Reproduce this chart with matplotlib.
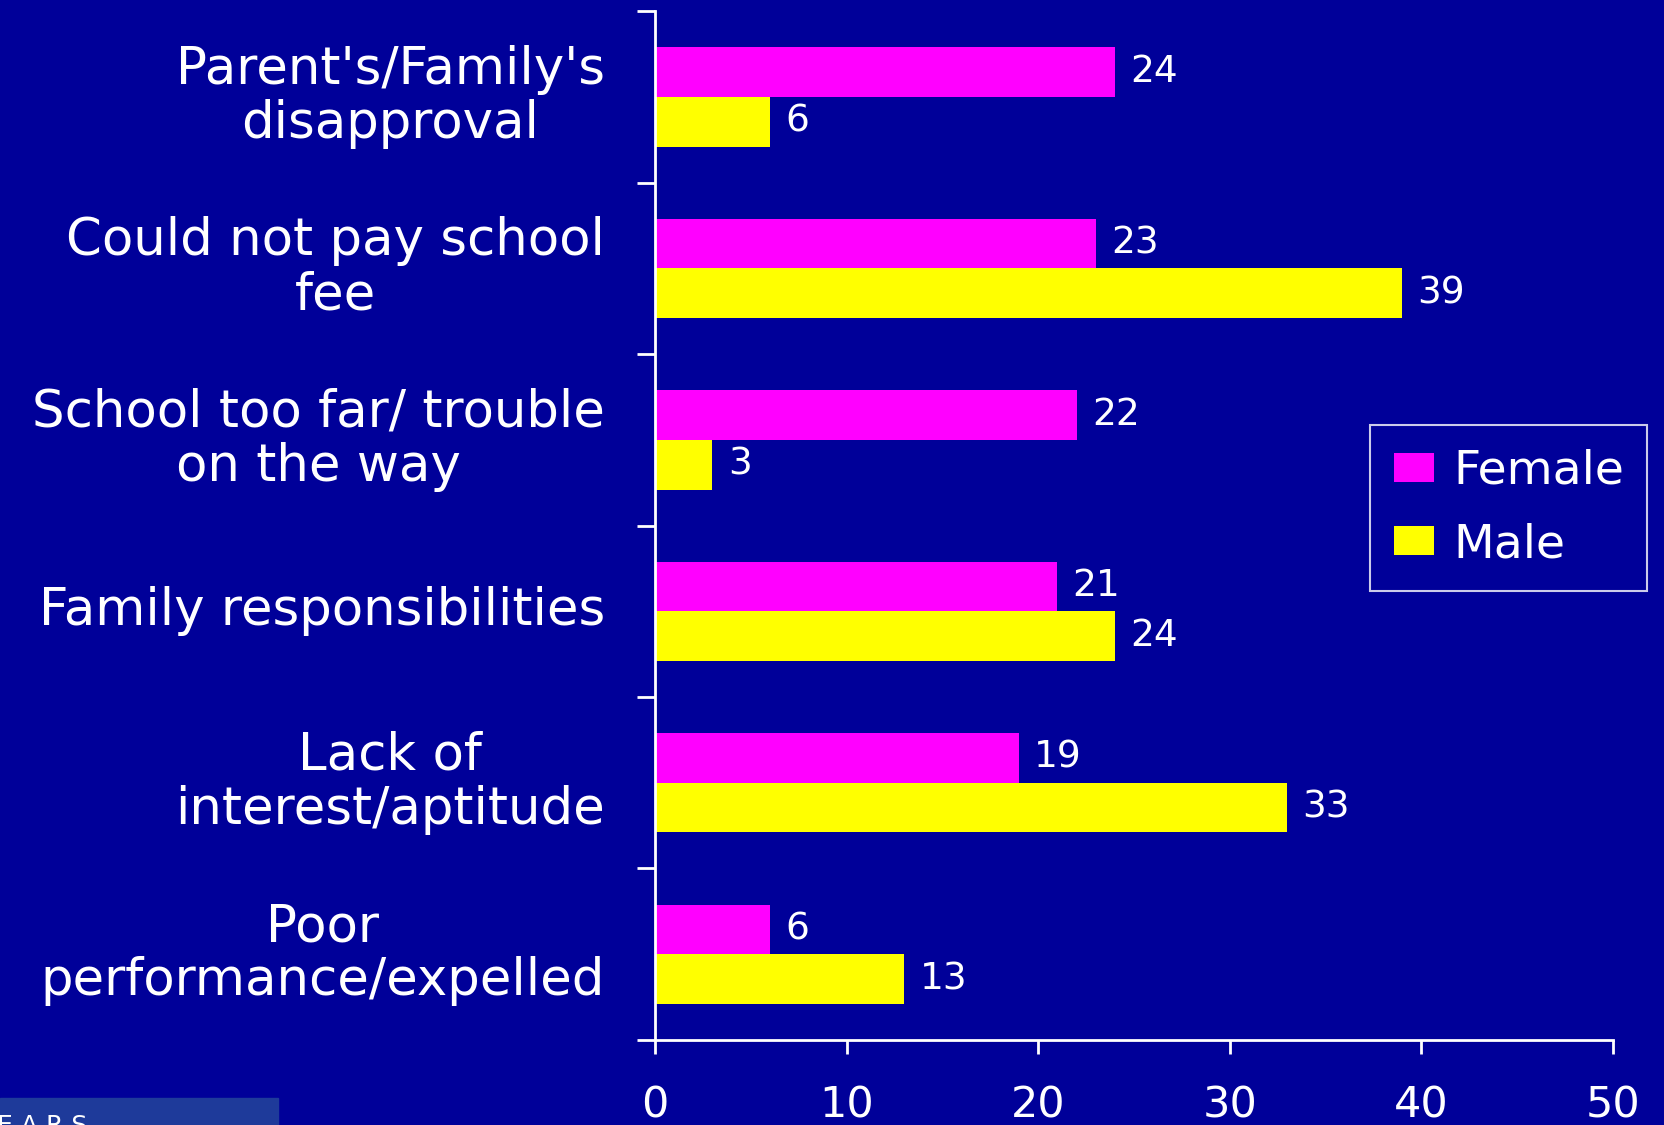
import matplotlib
matplotlib.use("Agg")
import matplotlib.pyplot as plt
import matplotlib.transforms as mtransforms
import numpy as np
from matplotlib.patches import Rectangle

categories = ["Parent's/Family's\ndisapproval",
              "Could not pay school\nfee",
              "School too far/ trouble\non the way",
              "Family responsibilities",
              "Lack of\ninterest/aptitude",
              "Poor\nperformance/expelled"]
female = [24, 23, 22, 21, 19, 6]
male = [6, 39, 3, 24, 33, 13]
xticks = [0, 10, 20, 30, 40, 50]

bg = "#000099"
plt.rcParams['font.family'] = ['DejaVu Sans']

fig = plt.figure(figsize=(16.65, 11.25), dpi=100, facecolor=bg)
ax = fig.add_axes([0.3934, 0.0756, 0.5754, 0.9144])
ax.set_facecolor(bg)

y = np.arange(len(categories))
h = 0.29
ax.barh(y - h / 2, female, height=h, color="#FF00FF", label="Female")
ax.barh(y + h / 2, male, height=h, color="#FFFF00", label="Male")

for yi, v in zip(y, female):
    ax.annotate(str(v), (v, yi - h / 2), xytext=(11, 0),
                textcoords="offset points", color="white", fontsize=27,
                va="center", ha="left")
for yi, v in zip(y, male):
    ax.annotate(str(v), (v, yi + h / 2), xytext=(11, 0),
                textcoords="offset points", color="white", fontsize=27,
                va="center", ha="left")

ax.set_ylim(len(categories) - 0.5, -0.5)
ax.set_xlim(0, 50)
ax.set_yticks(np.arange(-0.5, len(categories), 1.0))
ax.set_yticklabels([])
trans = mtransforms.blended_transform_factory(ax.transAxes, ax.transData)
for yi, lab in zip(y, categories):
    ax.text(-0.0522, yi, lab, color="white", fontsize=37, ha="right",
            va="center", linespacing=1.1, multialignment="center",
            transform=trans)

ax.set_xticks(xticks)
ax.set_xticklabels([str(t) for t in xticks], fontsize=31, color="white")
ax.tick_params(axis="x", colors="white", length=10, width=2, pad=22)
ax.tick_params(axis="y", colors="white", length=13, width=2)
for s in ["top", "right"]:
    ax.spines[s].set_visible(False)
for s in ["left", "bottom"]:
    ax.spines[s].set_color("white")
    ax.spines[s].set_linewidth(2)

leg = fig.legend(loc="upper left", bbox_to_anchor=(0.823, 0.622),
                 fontsize=34, frameon=True, fancybox=False,
                 handlelength=0.85, handleheight=0.58, handletextpad=0.4,
                 labelspacing=0.6, borderpad=0.5, borderaxespad=0,
                 labelcolor="white")
leg.get_frame().set_facecolor(bg)
leg.get_frame().set_edgecolor("white")
leg.get_frame().set_linewidth(1.5)

fig.patches.append(Rectangle((0, 0), 0.167, 0.024, transform=fig.transFigure,
                             color="#1e3a9a", zorder=0))
fig.text(-0.002, 0.0098, "E A R S", color="white", fontsize=18, ha="left",
         va="top")

fig.savefig("out.png", dpi=100, facecolor=bg)
